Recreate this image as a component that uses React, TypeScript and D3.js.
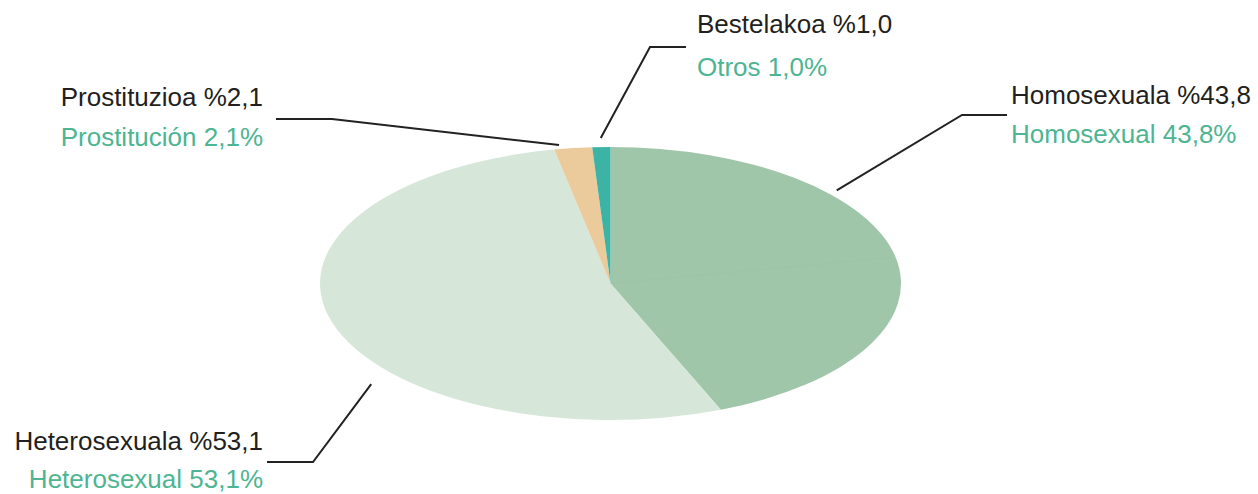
import React from "react";
import * as d3 from "d3";

// ---- data ----
const categoriesEu = ["Homosexuala", "Heterosexuala", "Prostituzioa", "Bestelakoa"];
const categoriesEs = ["Homosexual", "Heterosexual", "Prostitución", "Otros"];
const values = [43.8, 53.1, 2.1, 1.0];
const sliceColors = ["#a0c6aa", "#d6e6d9", "#ebcb9b", "#3cb3a4"];

// ---- layout ----
const W = 1258;
const H = 494;
const CX = 610.5;
const CY = 283.5;
const RX = 290.5;
const RY = 136.5;
const FONT = "'Liberation Sans', Arial, Helvetica, sans-serif";
const FS = 26;
const TEXT_DARK = "#231f20";
const TEXT_GREEN = "#4db592";

// label placement per category (same order as data)
const labelLayout = [
  { x: 1011, anchor: "start", y1: 104, y2: 143, leaderDeg: 48.8, leaderR: 1.035, elbow: [962, 115], endX: 1007 },
  { x: 263, anchor: "end", y1: 450, y2: 488, leaderDeg: 228.2, leaderR: 1.105, elbow: [313, 462], endX: 267 },
  { x: 263, anchor: "end", y1: 106, y2: 146, leaderDeg: -9.9, leaderR: 1.03, elbow: [332, 119], endX: 276 },
  { x: 697, anchor: "start", y1: 33, y2: 76, leaderDeg: -1.8, leaderR: 1.066, elbow: [650, 47], endX: 686 },
];

const fmtEu = (v: number) => "%" + v.toFixed(1).replace(".", ",");
const fmtEs = (v: number) => v.toFixed(1).replace(".", ",") + "%";

export default function App() {
  const pie = d3.pie<number>().sort(null).value((d) => d)(values);
  const arc = d3.arc<d3.PieArcDatum<number>>().innerRadius(0).outerRadius(1);

  const ellipsePoint = (angleRad: number, r: number) => [
    CX + RX * r * Math.sin(angleRad),
    CY - RY * r * Math.cos(angleRad),
  ];

  const homoMid = (pie[0].startAngle + pie[0].endAngle) / 2;
  const midPt = ellipsePoint(homoMid, 0.99);

  return (
    <svg
      width={W}
      height={H}
      style={{ position: "absolute", left: 0, top: 0, background: "#fff" }}
      fontFamily={FONT}
    >
      <g transform={`translate(${CX},${CY}) scale(${RX},${RY})`}>
        {pie.map((p, i) => (
          <path key={i} d={arc(p) || ""} fill={sliceColors[i]} />
        ))}
      </g>
      <line
        x1={CX}
        y1={CY}
        x2={midPt[0]}
        y2={midPt[1]}
        stroke="#99c0a3"
        strokeWidth={0.7}
        opacity={0.35}
      />
      {labelLayout.map((l, i) => {
        const start = ellipsePoint((l.leaderDeg * Math.PI) / 180, l.leaderR);
        const pts: [number, number][] = [
          [start[0], start[1]],
          [l.elbow[0], l.elbow[1]],
          [l.endX, l.elbow[1]],
        ];
        return (
          <g key={i}>
            <path
              d={d3.line()(pts) || ""}
              fill="none"
              stroke="#222"
              strokeWidth={2}
            />
            <text
              x={l.x}
              y={l.y1}
              textAnchor={l.anchor as any}
              fontSize={FS}
              fill={TEXT_DARK}
            >
              {`${categoriesEu[i]} ${fmtEu(values[i])}`}
            </text>
            <text
              x={l.x}
              y={l.y2}
              textAnchor={l.anchor as any}
              fontSize={FS}
              fill={TEXT_GREEN}
            >
              {`${categoriesEs[i]} ${fmtEs(values[i])}`}
            </text>
          </g>
        );
      })}
    </svg>
  );
}
